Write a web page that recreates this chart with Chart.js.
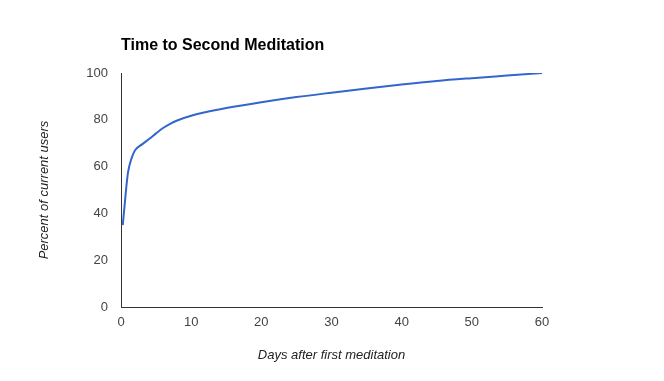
<!DOCTYPE html>
<html>
<head>
<meta charset="utf-8">
<script src="https://cdn.jsdelivr.net/npm/chart.js@4/dist/chart.umd.min.js"></script>
<style>
  html, body { margin: 0; padding: 0; background: #ffffff; }
  #wrap { position: relative; width: 664px; height: 381px; }
</style>
</head>
<body>
<div id="wrap"><canvas id="chart" width="664" height="381"></canvas></div>
<script>
// Days since the first session and share of current users who have had a second one
const days = [0.25, 0.5, 0.75, 1, 1.5, 2, 3, 4, 5, 6, 7, 8, 10, 12, 15, 20, 25, 30, 35, 40, 45, 50, 55, 60];
const percentUsers = [35, 43, 51, 57.5, 63.5, 67, 69.5, 71.8, 74.2, 76.5, 78.3, 79.7, 81.7, 83.2, 85, 87.5, 89.7, 91.6, 93.4, 95.1, 96.6, 97.8, 98.9, 100];
const xTicks = [0, 10, 20, 30, 40, 50, 60];
const yTicks = [0, 20, 40, 60, 80, 100];

const chartTitle = 'Time to Second Meditation';
const xTitle = 'Days after first meditation';
const yTitle = 'Percent of current users';

const FONT = 'Arial, "Liberation Sans", sans-serif';

// Title drawn flush with the left edge of the plot area
const titlePlugin = {
  id: 'leftTitle',
  afterDraw(chart) {
    const ctx = chart.ctx;
    ctx.save();
    ctx.font = 'bold 16px ' + FONT;
    ctx.fillStyle = '#000000';
    ctx.textAlign = 'left';
    ctx.textBaseline = 'alphabetic';
    ctx.fillText(chartTitle, chart.chartArea.left, 50);
    ctx.restore();
  }
};

new Chart(document.getElementById('chart'), {
  type: 'line',
  data: {
    datasets: [{
      data: days.map((d, i) => ({ x: d, y: percentUsers[i] })),
      borderColor: '#3366cc',
      borderWidth: 2,
      pointRadius: 0,
      fill: false,
      cubicInterpolationMode: 'monotone'
    }]
  },
  options: {
    responsive: false,
    animation: false,
    layout: { padding: { top: 73, right: 122, left: 0, bottom: 0 } },
    plugins: {
      legend: { display: false },
      tooltip: { enabled: false },
      title: { display: false }
    },
    scales: {
      x: {
        type: 'linear',
        min: 0, max: 60,
        afterBuildTicks(scale) { scale.ticks = xTicks.map(v => ({ value: v })); },
        afterFit(scale) { scale.height = 74; },
        grid: { display: false, drawTicks: false },
        border: { display: true, color: '#333333', width: 1 },
        ticks: { color: '#444444', padding: 8, maxRotation: 0, font: { family: FONT, size: 13 } },
        title: {
          display: true, text: xTitle, color: '#222222',
          padding: { top: 0, bottom: 18 },
          font: { family: FONT, size: 13, style: 'italic' }
        }
      },
      y: {
        type: 'linear',
        min: 0, max: 100,
        afterBuildTicks(scale) { scale.ticks = yTicks.map(v => ({ value: v })); },
        afterFit(scale) { scale.width = 121; },
        grid: { display: false, drawTicks: false },
        border: { display: true, color: '#333333', width: 1 },
        ticks: { color: '#444444', padding: 13, font: { family: FONT, size: 13 } },
        title: {
          display: true, text: yTitle, color: '#222222',
          padding: { top: 37, bottom: 0 },
          font: { family: FONT, size: 13, style: 'italic' }
        }
      }
    }
  },
  plugins: [titlePlugin]
});
</script>
</body>
</html>
